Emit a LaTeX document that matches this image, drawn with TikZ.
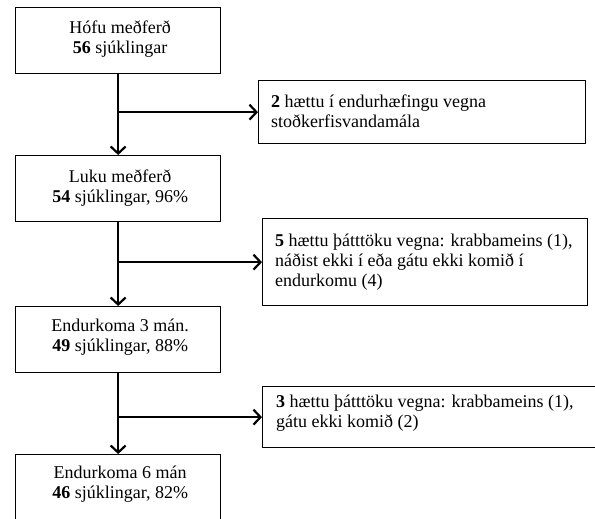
\documentclass[tikz,border=0pt]{standalone}
\usepackage{fontspec}
\setmainfont{Liberation Serif}
\usetikzlibrary{arrows.meta}
\newcommand{\firstln}{\rule{0pt}{14pt}}
\tikzset{
  box/.style={draw, line width=1.3pt, inner sep=0pt, anchor=north west},
  mainbox/.style={box, minimum width=205pt, minimum height=66pt},
  ctext/.style={anchor=north, inner sep=0pt, align=center, font=\fontsize{18}{20}\selectfont},
  ltext/.style={anchor=north west, inner sep=0pt, align=left, font=\fontsize{18}{20}\selectfont},
  flow/.style={line width=1.8pt, -{Straight Barb[length=7pt,width=15pt,line width=2.2pt]}},
}
\begin{document}
\begin{tikzpicture}[x=1pt,y=-1pt]
\useasboundingbox (0,0) rectangle (595,519);
\clip (0,0) rectangle (595,519);
\fill[white] (0,0) rectangle (595,519);
% main column
\node[mainbox] (b1) at (15,7) {};
\node[mainbox] (b3) at (15,155) {};
\node[mainbox] (b5) at (15,306) {};
\node[box, minimum width=205pt, minimum height=72pt] (b7) at (15,454) {};
% side boxes
\node[box, minimum width=327pt, minimum height=63pt] (b2) at (258,80) {};
\node[box, minimum width=325pt, minimum height=87pt] (b4) at (262,218) {};
\node[box, minimum width=345pt, minimum height=61pt] (b6) at (262,386) {};
% texts
\node[ctext] (t1) at ([xshift=2,yshift=-12]b1.north) {\firstln Hófu meðferð\\\textbf{56} sjúklingar};
\node[ctext] (t3) at ([xshift=2,yshift=-13]b3.north) {\firstln Luku meðferð\\\textbf{54} sjúklingar, 96\%};
\node[ctext] (t5) at ([xshift=2,yshift=-11]b5.north) {\firstln Endurkoma 3 mán.\\\textbf{49} sjúklingar, 88\%};
\node[ctext] (t7) at ([xshift=2,yshift=-10]b7.north) {\firstln Endurkoma 6 mán\\\textbf{46} sjúklingar, 82\%};
\node[ltext] (t2) at ([xshift=13,yshift=-13]b2.north west) {\firstln\textbf{2} hættu í endurhæfingu vegna\\stoðkerfisvandamála};
\node[ltext] (t4) at ([xshift=13,yshift=-14]b4.north west) {\firstln\textbf{5} hættu þátttöku vegna: krabbameins (1),\\náðist ekki í eða gátu ekki komið í\\endurkomu (4)};
\node[ltext] (t6) at ([xshift=14,yshift=-7]b6.north west) {\firstln\textbf{3} hættu þátttöku vegna: krabbameins (1),\\gátu ekki komið (2)};
% connectors
\draw[flow] (b1.south) -- (b3.north);
\draw[flow] (b3.south) -- (b5.north);
\draw[flow] (b5.south) -- (b7.north);
\coordinate (j1) at (b1.south |- b2.west);
\coordinate (j2) at (b3.south |- b4.west);
\coordinate (j3) at (b5.south |- b6.west);
\draw[flow] (j1) -- (b2.west);
\draw[flow] (j2) -- (b4.west);
\draw[flow] (j3) -- (b6.west);
\end{tikzpicture}
\end{document}
